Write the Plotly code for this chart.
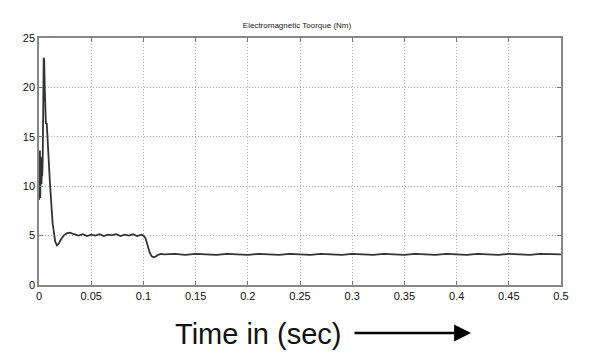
import plotly.graph_objects as go

# Time (s) and electromagnetic torque (Nm)
t_start = [0.0, 0.0003, 0.0006, 0.0009, 0.0012, 0.0015, 0.0018, 0.0021, 0.0024, 0.0027,
           0.0031, 0.0036, 0.0041, 0.0045, 0.0050, 0.0055, 0.0060, 0.0066, 0.0074,
           0.0090, 0.0105, 0.0130, 0.0155, 0.0172, 0.0190, 0.0210, 0.0240, 0.0270,
           0.0295, 0.0320, 0.0350]
tq_start = [8.6, 13.4, 9.0, 13.6, 8.8, 13.0, 9.5, 12.6, 10.2, 12.0,
            11.0, 13.0, 17.5, 23.0, 22.7, 20.0, 16.8, 16.3, 16.4,
            13.0, 10.3, 6.3, 4.4, 4.0, 4.2, 4.6, 5.05, 5.25,
            5.3, 5.2, 5.1]

t_mid = [0.038, 0.042, 0.046, 0.050, 0.054, 0.058, 0.062, 0.066, 0.070, 0.074,
         0.078, 0.082, 0.086, 0.090, 0.094, 0.098, 0.100, 0.102, 0.104, 0.106,
         0.108, 0.110, 0.112, 0.114, 0.117, 0.120]
tq_mid = [5.0, 5.15, 4.95, 5.1, 5.0, 5.15, 4.95, 5.1, 5.05, 5.15,
          4.95, 5.1, 5.0, 5.15, 4.95, 5.1, 5.0, 4.75, 4.0, 3.3,
          2.9, 2.8, 2.9, 3.05, 3.15, 3.1]

t_end = [0.13, 0.14, 0.15, 0.16, 0.17, 0.18, 0.19, 0.20, 0.21, 0.22,
         0.23, 0.24, 0.25, 0.26, 0.27, 0.28, 0.29, 0.30, 0.31, 0.32,
         0.33, 0.34, 0.35, 0.36, 0.37, 0.38, 0.39, 0.40, 0.41, 0.42,
         0.43, 0.44, 0.45, 0.46, 0.47, 0.48, 0.49, 0.50]
tq_end = [3.15, 3.05, 3.15, 3.1, 3.05, 3.15, 3.1, 3.05, 3.15, 3.1,
          3.05, 3.15, 3.1, 3.05, 3.15, 3.1, 3.05, 3.15, 3.1, 3.05,
          3.15, 3.1, 3.05, 3.15, 3.1, 3.05, 3.15, 3.1, 3.05, 3.15,
          3.1, 3.05, 3.15, 3.1, 3.05, 3.15, 3.1, 3.1]

x_ticks = [0, 0.05, 0.1, 0.15, 0.2, 0.25, 0.3, 0.35, 0.4, 0.45, 0.5]
x_tick_text = ["0", "0.05", "0.1", "0.15", "0.2", "0.25", "0.3", "0.35", "0.4", "0.45", "0.5"]
y_ticks = [0, 5, 10, 15, 20, 25]

time = t_start + t_mid + t_end
torque = tq_start + tq_mid + tq_end

W, H = 592, 353  # page body adds an 8px offset

fig = go.Figure()
fig.add_trace(go.Scatter(x=time, y=torque, mode="lines",
                         line=dict(color="#333333", width=1.8),
                         showlegend=False, hoverinfo="skip"))

grid = dict(showgrid=True, gridcolor="#b0b0b0", griddash="1px,2px", gridwidth=1)
tickfont = dict(family="Liberation Sans, Arial", size=11, color="#111111")
fig.update_xaxes(range=[0, 0.5], tickvals=x_ticks, ticktext=x_tick_text,
                 ticks="inside", ticklen=4, tickcolor="#777777",
                 showline=True, linecolor="#888888", linewidth=1.5, mirror="ticks",
                 zeroline=False, tickfont=tickfont, automargin=False, **grid)
fig.update_yaxes(range=[0, 25], tickvals=y_ticks,
                 ticks="inside", ticklen=4, tickcolor="#777777",
                 showline=True, linecolor="#888888", linewidth=1.5, mirror="ticks",
                 zeroline=False, tickfont=tickfont, automargin=False, **grid)

fig.update_layout(
    width=W, height=H,
    margin=dict(l=31, r=39, t=30, b=76),
    paper_bgcolor="white", plot_bgcolor="white",
    title=dict(text="Electromagnetic Toorque (Nm)", x=(297 - 8) / W, xanchor="center",
               y=1 - 17 / H, yanchor="middle",
               font=dict(family="Liberation Sans, Arial", size=8, color="#222222")),
)

# Bottom annotation: "Time in (sec)" with arrow
fig.add_annotation(text="Time in (sec)", xref="paper", yref="paper",
                   x=(173 - 39) / 522, y=(285 - 334) / 247, xanchor="left", yanchor="middle",
                   showarrow=False,
                   font=dict(family="Liberation Sans, Arial", size=29, color="#111111"))
fig.add_annotation(text="", xref="paper", yref="paper",
                   x=(471 - 39) / 522, y=(285 - 333) / 247,
                   ax=-118, ay=0, axref="pixel", ayref="pixel",
                   showarrow=True, arrowhead=2, arrowsize=1.3, arrowwidth=2.6,
                   arrowcolor="#000000", standoff=0)

fig.write_html("out.html")
